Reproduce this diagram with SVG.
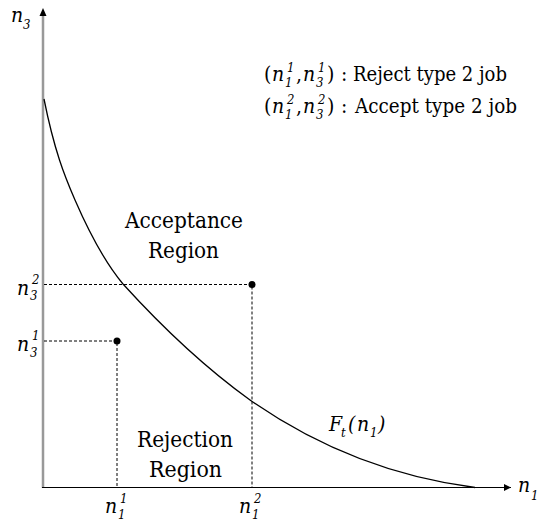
<svg xmlns="http://www.w3.org/2000/svg" width="540" height="521" viewBox="0 0 540 521">
<defs>
<style>
.f text{font-family:"DejaVu Serif Condensed","DejaVu Serif",serif;fill:#000}
.it{font-style:italic}
.big{font-size:22px}
.nn{font-size:21px}
.sm{font-size:13px}
.lg{font-size:21px}
.dash{stroke:#000;stroke-width:1;stroke-dasharray:3 2;fill:none}
</style>
<marker id="ah" viewBox="0 0 10 10" refX="10" refY="5" markerWidth="7" markerHeight="7" markerUnits="userSpaceOnUse" orient="auto"><path d="M0,0 L10,5 L0,10 Z" fill="#000"/></marker>
</defs>
<rect width="540" height="521" fill="#fff"/>
<g id="connectors">
<line x1="43" y1="488" x2="43" y2="16" stroke="#999" stroke-width="2.5"/>
<path d="M39.5,16 L43,8 L46.5,16 Z" fill="#000"/>
<line x1="42" y1="487.5" x2="511" y2="487.5" stroke="#000" stroke-width="1.2" marker-end="url(#ah)"/>
<path d="M44,99 C54.33,150.7 64.67,176.2 75,200 C91,236.8 107,264.8 123,284 C165.33,330.6 207.67,369.5 250,400 C325,452.5 400,477.75 475,487.5" fill="none" stroke="#000" stroke-width="1.3"/>
<path class="dash" d="M44,284.5 H252 V487"/>
<path class="dash" d="M44,341 H117 V487"/>
<circle cx="252" cy="284.5" r="3.5" fill="#000"/>
<circle cx="117" cy="341" r="3.5" fill="#000"/>
</g>
<g class="f">
<g id="axis-n3">
<text class="it nn" x="11" y="22">n</text><text class="it sm" x="23" y="29">3</text>
</g>
<g id="axis-n1">
<text class="it nn" x="518" y="492">n</text><text class="it sm" x="531" y="500">1</text>
</g>
<g id="tick-n3-2">
<text class="it nn" x="17" y="295">n</text><text class="it sm" x="32" y="284">2</text><text class="it sm" x="30" y="300">3</text>
</g>
<g id="tick-n3-1">
<text class="it nn" x="17" y="351">n</text><text class="it sm" x="32" y="340">1</text><text class="it sm" x="30" y="357">3</text>
</g>
<g id="tick-n1-1">
<text class="it nn" x="105" y="513">n</text><text class="it sm" x="120" y="503">1</text><text class="it sm" x="118" y="519">1</text>
</g>
<g id="tick-n1-2">
<text class="it nn" x="239" y="513">n</text><text class="it sm" x="254" y="503">2</text><text class="it sm" x="252" y="519">1</text>
</g>
<g id="legend">
<text class="lg" x="264" y="81">(</text>
<text class="it nn" x="272" y="81">n</text><text class="it sm" x="287" y="72">1</text><text class="it sm" x="285" y="87">1</text>
<text class="lg" x="296" y="81">,</text>
<text class="it nn" x="303" y="81">n</text><text class="it sm" x="318" y="72">1</text><text class="it sm" x="316" y="87">3</text>
<text class="lg" x="327" y="81">)</text>
<text class="lg" x="341" y="81">:</text>
<text class="lg" x="353" y="81" textLength="154" lengthAdjust="spacingAndGlyphs">Reject type 2 job</text>
<text class="lg" x="264" y="113">(</text>
<text class="it nn" x="272" y="113">n</text><text class="it sm" x="287" y="104">2</text><text class="it sm" x="285" y="119">1</text>
<text class="lg" x="296" y="113">,</text>
<text class="it nn" x="303" y="113">n</text><text class="it sm" x="318" y="104">2</text><text class="it sm" x="316" y="119">3</text>
<text class="lg" x="327" y="113">)</text>
<text class="lg" x="341" y="113">:</text>
<text class="lg" x="355" y="113" textLength="162" lengthAdjust="spacingAndGlyphs">Accept type 2 job</text>
</g>
<g id="acceptance-region">
<text class="big" x="125" y="228" textLength="118" lengthAdjust="spacingAndGlyphs">Acceptance</text>
<text class="big" x="148" y="258" textLength="71" lengthAdjust="spacingAndGlyphs">Region</text>
</g>
<g id="rejection-region">
<text class="big" x="137" y="447" textLength="96" lengthAdjust="spacingAndGlyphs">Rejection</text>
<text class="big" x="149" y="477" textLength="73" lengthAdjust="spacingAndGlyphs">Region</text>
</g>
<g id="curve-label">
<text class="it nn" x="329" y="431">F</text><text class="it sm" x="341" y="437">t</text>
<text class="it nn" x="348" y="431">(</text><text class="it nn" x="357" y="431">n</text><text class="it sm" x="370" y="437">1</text><text class="it nn" x="378" y="431">)</text>
</g>
</g>
</svg>
